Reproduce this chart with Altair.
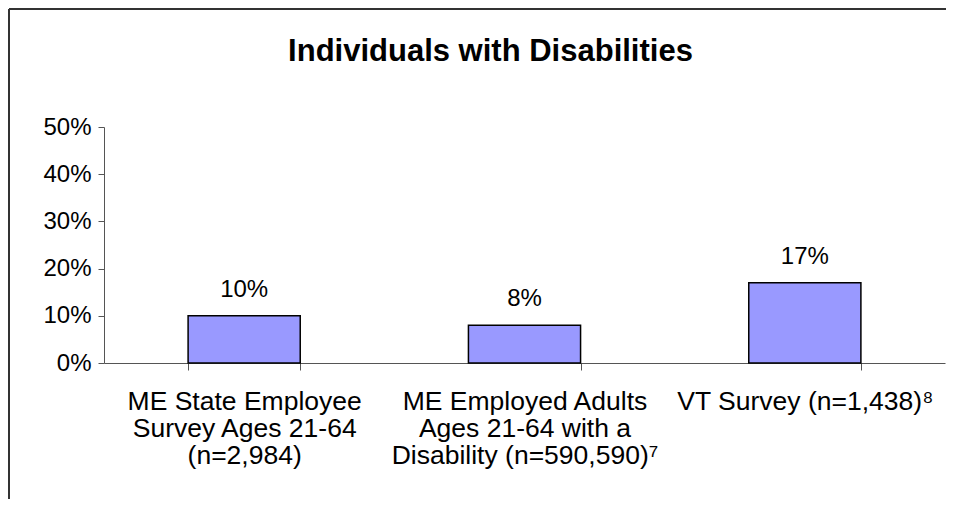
import altair as alt
import pandas as pd

categories = [
    "ME State Employee\nSurvey Ages 21-64\n(n=2,984)",
    "ME Employed Adults\nAges 21-64 with a\nDisability (n=590,590)\u2077",
    "VT Survey (n=1,438)\u2078",
]
values = [0.10, 0.08, 0.17]
y_ticks = [0, 0.1, 0.2, 0.3, 0.4, 0.5]
title_text = "Individuals with Disabilities"

df = pd.DataFrame({"category": categories, "value": values})

FONT = "Liberation Sans, Arial, sans-serif"
W, H = 937, 490
AXIS_Y = 354   # pixel of 0% inside the view
AXIS_X = 95    # pixel of the y axis inside the view

x_scale = alt.Scale(domain=categories, range=[AXIS_X, 936], paddingInner=0.6, paddingOuter=0.3)
y_scale = alt.Scale(domain=[0, 0.5], range=[AXIS_Y, 118], nice=False, zero=True)

base = alt.Chart(df)

bars = base.mark_bar(fill="#9999FF", stroke="#000000", strokeWidth=1.5).encode(
    x=alt.X("category:N", scale=x_scale, sort=categories,
            axis=alt.Axis(title=None, orient="bottom", offset=-(H - AXIS_Y),
                          tickBand="extent", tickSize=7, tickColor="#555555",
                          domainColor="#555555", domainWidth=1, tickWidth=1,
                          labelExpr="split(datum.label, '\\n')",
                          labelAngle=0, labelAlign="center", labelBaseline="top",
                          labelFont=FONT, labelFontSize=26.5, labelColor="#000000",
                          labelLineHeight=27, labelPadding=18, labelLimit=0,
                          labelOverlap=False)),
    y=alt.Y("value:Q", scale=y_scale,
            axis=alt.Axis(title=None, orient="left", offset=-AXIS_X, values=y_ticks,
                          format=".0%", grid=False, tickSize=6, tickColor="#555555",
                          domainColor="#555555", domainWidth=1, tickWidth=1,
                          labelFont=FONT, labelFontSize=24, labelColor="#000000",
                          labelPadding=7, labelBaseline="middle")),
)

labels = base.mark_text(font=FONT, fontSize=24, color="#000000",
                        baseline="alphabetic", dy=-19).encode(
    x=alt.X("category:N", scale=x_scale, sort=categories),
    y=alt.Y("value:Q", scale=y_scale),
    text=alt.Text("value:Q", format=".0%"),
)

frame_data = alt.Data(values=[{}])
frame_left = alt.Chart(frame_data).mark_rule(color="#333333", strokeWidth=2).encode(
    x=alt.value(0), y=alt.value(0), y2=alt.value(H)
)
frame_top = alt.Chart(frame_data).mark_rule(color="#333333", strokeWidth=2).encode(
    x=alt.value(0), x2=alt.value(W), y=alt.value(0)
)

chart = alt.layer(frame_left, frame_top, bars, labels).properties(
    width=W, height=H,
    title=alt.TitleParams(title_text, font=FONT, fontSize=31, fontWeight="bold",
                          color="#000000", anchor="middle", offset=-84, dx=13,
                          baseline="alphabetic"),
    autosize=alt.AutoSizeParams(type="none"),
    padding={"left": 1, "top": 1, "right": 0, "bottom": 0},
).configure(background="white").configure_view(stroke=None)

chart.save("out.html", embed_options={"renderer": "svg", "actions": False})
